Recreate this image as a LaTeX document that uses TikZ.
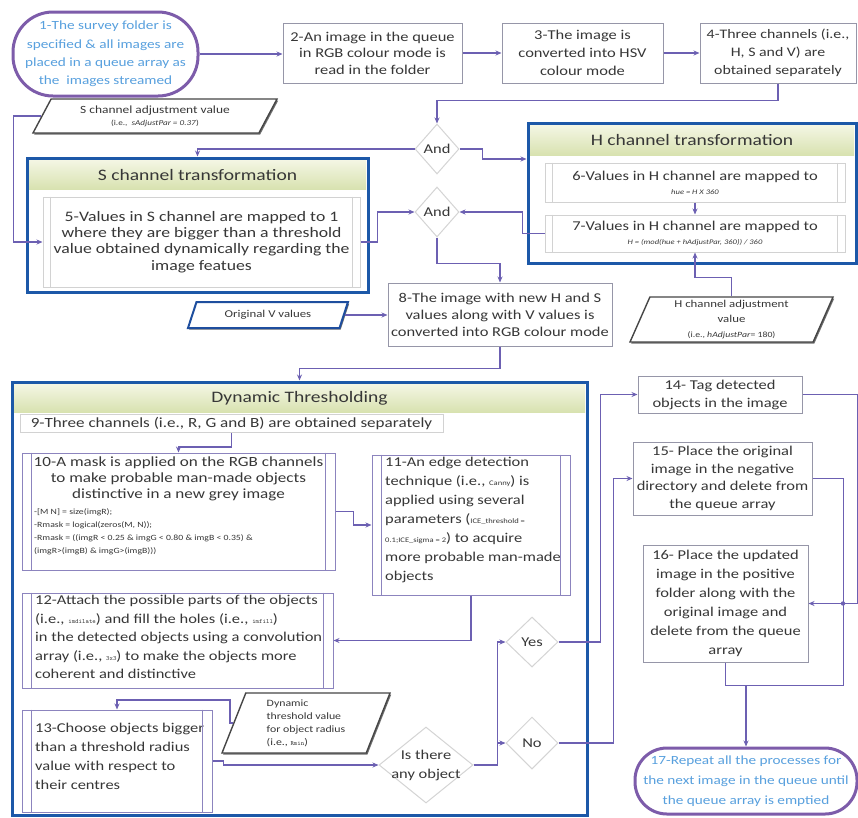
\documentclass[tikz,border=0pt]{standalone}
\usepackage{fontspec}
\setmainfont{Carlito}[FakeStretch=1.22]
\usetikzlibrary{arrows.meta,shapes.geometric,shadows}
\newcommand{\myfs}[2]{\fontsize{#1}{#2}\selectfont}
\newcommand{\mycode}[1]{{\myfs{6.5}{8}\ttfamily #1}}
\newcommand{\mysmall}[1]{{\myfs{7}{8}#1}}
\definecolor{linec}{RGB}{108,96,178}
\definecolor{boxc}{RGB}{150,150,168}
\definecolor{ppc}{RGB}{140,132,190}
\definecolor{grpc}{RGB}{28,88,168}
\definecolor{hdtop}{RGB}{244,246,228}
\definecolor{hdbot}{RGB}{216,226,176}
\definecolor{termc}{RGB}{125,92,170}
\definecolor{termt}{RGB}{88,160,222}
\definecolor{txtc}{RGB}{55,55,55}
\definecolor{parac}{RGB}{70,70,70}
\definecolor{vparac}{RGB}{30,78,158}
\definecolor{diac}{RGB}{212,212,212}
\definecolor{innerc}{RGB}{210,210,210}
\tikzset{
  fnt/.style 2 args={font=\myfs{#1}{#2}},
  base/.style={text=txtc, align=center, inner sep=2pt, fnt={13.5}{18}},
  wh/.style 2 args={minimum width=#1, minimum height=#2},
  box/.style={base, rectangle, draw=boxc, line width=1pt, fill=white},
  ppbox/.style={rectangle, draw=ppc, line width=1pt, fill=white},
  inbox/.style={base, rectangle, draw=innerc, line width=1pt, fill=white},
  grp/.style={rectangle, draw=grpc, line width=3pt, fill=white},
  hdr/.style={base, rectangle, top color=hdtop, bottom color=hdbot, fnt={16}{19}, inner sep=0pt},
  term/.style={base, rectangle, draw=termc, line width=3pt, fill=white, text=termt},
  para/.style={base, trapezium, trapezium stretches body=true, draw=parac, line width=1.4pt, fill=white,
    drop shadow={shadow xshift=1.2pt, shadow yshift=-1.6pt, fill=black!70, opacity=.8}},
  dia/.style={base, diamond, draw=diac, line width=1pt, fill=white, inner sep=0pt},
  conn/.style={draw=linec, line width=1.3pt, -{Stealth[length=6pt,width=5pt]}},
  wire/.style={draw=linec, line width=1.3pt},
  txt/.style={base, anchor=north west, align=left},
}
\begin{document}
\begin{tikzpicture}[x=1pt,y=-1pt]
\useasboundingbox (0,0) rectangle (858,817);
\fill[white] (0,0) rectangle (858,817);

% ---------- groups ----------
\node[grp, wh={341}{134}] (sg) at (197.5,225) {};
\node[hdr, wh={337}{29}] (sgh) at (197.5,174.5) {S channel transformation};
\node[inbox, fnt={14.5}{16.3}, wh={317}{90}] (n5) at (201.5,242)
  {5-Values in S channel are mapped to 1\\where they are bigger than a threshold\\value obtained dynamically regarding the\\image featues};

\node[grp, wh={328}{140}] (hg) at (692,193) {};
\node[hdr, wh={324}{30}] (hgh) at (692,140) {H channel transformation};
\node[inbox, wh={300}{39}] (n6) at (695,182.5)
  {6-Values in H channel are mapped to\\[-4pt]{\myfs{7}{9}\itshape hue = H X 360}};
\node[inbox, wh={300}{37}] (n7) at (695,233.5)
  {7-Values in H channel are mapped to\\[-4pt]{\myfs{7}{9}\itshape H = (mod(hue + hAdjustPar, 360)) / 360}};

\node[grp, wh={575}{433}] (dg) at (299.5,598.5) {};
\node[hdr, wh={571}{28}] (dgh) at (299.5,398) {Dynamic Thresholding};

\foreach \n in {n5,n6,n7}{
  \draw[innerc, line width=0.8pt] ([xshift=8pt]\n.north west) -- ([xshift=8pt]\n.south west);
  \draw[innerc, line width=0.8pt] ([xshift=-8pt]\n.north east) -- ([xshift=-8pt]\n.south east);
}

% ---------- top row ----------
\node[term, rounded corners=40pt, wh={185}{84}, fnt={12.5}{18.3}] (n1) at (105.5,54)
  {1-The survey folder is\\specified \& all images are\\placed in a queue array as\\the~~images streamed};
\node[box, wh={179}{60}, fnt={13.5}{16.5}] (n2) at (372.5,53)
  {2-An image in the queue\\in RGB colour mode is\\read in the folder};
\node[box, wh={161}{60}] (n3) at (582.5,53)
  {3-The image is\\converted into HSV\\colour mode};
\node[box, wh={156}{60}, fnt={13}{18}] (n4) at (778,53)
  {4-Three channels (i.e.,\\H, S and V) are\\obtained separately};

\node[para, trapezium left angle=54, trapezium right angle=126, wh={244}{34}, fnt={11}{12}] (sadj) at (155,116)
  {S channel adjustment value\\{\myfs{7.5}{9}(i.e.,~ \textit{sAdjustPar = 0.37})}};

\node[dia, wh={44}{50}] (and1) at (437,149) {And};
\node[dia, wh={44}{50}] (and2) at (437,212) {And};

% ---------- middle ----------
\node[para, draw=vparac, line width=2pt, drop shadow={opacity=0}, trapezium left angle=57, trapezium right angle=123,
  wh={160}{26}, fnt={10.5}{12}] (vorig) at (268,315) {Original V values};
\node[box, wh={224}{63}, fnt={13.5}{17}] (n8) at (500,314.5)
  {8-The image with new H and S\\values along with V values is\\converted into RGB colour mode};
\node[para, trapezium left angle=65, trapezium right angle=115, wh={203}{45}, fnt={10.5}{15}] (hadj) at (731.5,319.5)
  {H channel adjustment\\value\\{\myfs{8}{10}(i.e., \textit{hAdjustPar}= 180)}};

% ---------- dynamic thresholding ----------
\node[inbox, wh={423}{18}, fnt={14}{16}, inner sep=0pt] (n9) at (231.5,423.5)
  {9-Three channels (i.e., R, G and B) are obtained separately};

\node[ppbox, wh={313}{117}] (n10) at (178.5,511.5) {};
\node[base, fnt={14}{16}, anchor=north] (n10t) at (178.5,455)
  {10-A mask is applied on the RGB channels\\to make probable man-made objects\\distinctive in a new grey image};
\node[txt, fnt={8}{13}] (n10c) at (32,506)
  {-[M N] = size(imgR);\\-Rmask = logical(zeros(M, N));\\-Rmask = ((imgR < 0.25 \& imgG < 0.80 \& imgB < 0.35) \&\\(imgR>(imgB) \& imgG>(imgB)))};

\node[ppbox, wh={198}{140}] (n11) at (471,525) {};
\node[txt, fnt={13.5}{19}] (n11t) at (383,455)
  {11-An edge detection\\technique (i.e., \mysmall{Canny}) is\\applied using several\\parameters (\mysmall{ICE\_threshold =}\\\mysmall{0.1;ICE\_sigma = 2}) to acquire\\more probable man-made\\objects};

\node[ppbox, wh={311}{95}] (n12) at (177.5,640.5) {};
\node[txt, fnt={13.5}{18.5}] (n12t) at (33,593)
  {12-Attach the possible parts of the objects\\(i.e., \mycode{imdilate}) and fill the holes (i.e., \mycode{imfill})\\in the detected objects using a convolution\\array (i.e., \mycode{3x3}) to make the objects more\\coherent and distinctive};

\node[ppbox, wh={190}{102}] (n13) at (117,761) {};
\node[txt, fnt={13.5}{19}] (n13t) at (33,721)
  {13-Choose objects bigger\\than a threshold radius\\value with respect to\\their centres};

\foreach \n in {n10,n11,n12,n13}{
  \draw[ppc, line width=1pt] ([xshift=10pt]\n.north west) -- ([xshift=10pt]\n.south west);
  \draw[ppc, line width=1pt] ([xshift=-10pt]\n.north east) -- ([xshift=-10pt]\n.south east);
}

\node[para, trapezium left angle=65, trapezium right angle=115, wh={168}{60}, fnt={9.7}{13}, align=left] (dynthr) at (306,723)
  {Dynamic\\threshold value\\for object radius\\(i.e., \mycode{Rmin})};

\node[dia, inner sep=-8pt, wh={94}{76}, fnt={13.5}{19}] (isobj) at (426,765) {Is there\\any object};
\node[dia, wh={52}{50}] (yes) at (532,642) {Yes};
\node[dia, wh={52}{52}] (no) at (532,743) {No};

% ---------- right column ----------
\node[box, wh={164}{37}] (n14) at (720,394.5) {14- Tag detected\\objects in the image};
\node[box, wh={179}{73}, fnt={13.5}{17.5}] (n15) at (722.5,478.5)
  {15- Place the original\\image in the negative\\directory and delete from\\the queue array};
\node[box, wh={165}{117}, fnt={13.5}{19}] (n16) at (725.5,603.5)
  {16- Place the updated\\image in the positive\\folder along with the\\original image and\\delete from the queue\\array};
\node[term, rounded corners=32pt, wh={222}{66}, fnt={12.5}{20}] (n17) at (746,781)
  {17-Repeat all the processes for\\the next image in the queue until\\the queue array is emptied};

% ---------- connectors ----------
\draw[conn] (n1.east) -- (n1.east -| n2.west);
\draw[conn] (n2.east) -- (n3.west);
\draw[conn] (n3.east) -- (n4.west);
\draw[conn] (n4.south) -- ++(0,17) -| (and1.north);
\draw[conn] (and1.west) -| (sg.north);
\draw[conn] (and1.east) -- ++(23,0) |- ([yshift=34pt]hg.west);
\draw[conn] (sadj.west) -- ++(-28,0) |- (n5.west);
\draw[conn] (n5.east) -- ++(17,0) |- (and2.west);
\draw[conn] (n7.west) -- ++(-22,0) |- (and2.east);
\draw[conn] (n6.south) -- (n7.north);
\draw[conn] (hadj.north) -- ++(0,-19) -| (n7.south);
\draw[conn] (and2.south) -- ++(0,26) -| (n8.north);
\draw[conn] (vorig.east) -- (vorig.east -| n8.west);
\draw[conn] (n8.south) -- ++(0,22) -| (dg.north);
\draw[conn] (n9.south) -- ++(0,14) -| (n10.north);
\draw[conn] (n10.east) -- ++(18,0) |- (n11.west);
\draw[conn] (n11.south) |- (n12.east);
\draw[conn] (dynthr.west) -| (230,700) -| (n13.north);
\draw[conn] (n13.east) -- ++(11,0) |- (isobj.west);
\draw[conn] (isobj.east) -- ++(24,0) |- (yes.west);
\draw[conn] (isobj.east) -- ++(24,0) |- (no.west);
\draw[conn] (yes.east) -- ++(42,0) |- (n14.west);
\draw[conn] (no.east) -- ++(55,0) |- (n15.west);
\draw[conn] (n14.east) -- ++(55,0) |- (n16.east);
\path (n17.north) ++(0,-61) coordinate (j);
\draw[wire] (n15.east) -- ++(31,0) |- (j);
\draw[wire] (n16.south) |- (j);
\draw[conn] (j) -- (n17.north);
\fill[linec] (843,603.5) circle (2.2pt);
\end{tikzpicture}
\end{document}
